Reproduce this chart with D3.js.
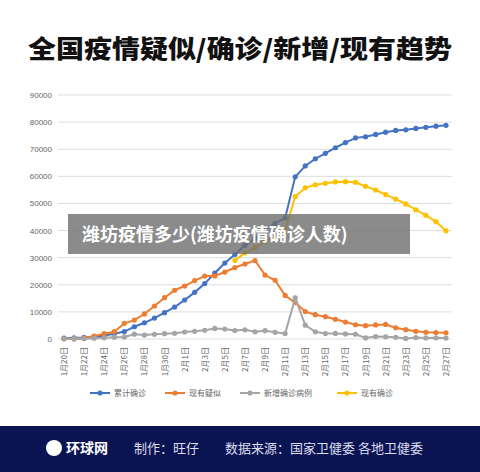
<!DOCTYPE html>
<html><head><meta charset="utf-8">
<script src="https://cdn.jsdelivr.net/npm/d3@7"></script>
<style>body{margin:0;background:#fff;font-family:"Noto Sans CJK SC",sans-serif}</style>
</head><body><svg></svg>
<script>
const width = 480, height = 472;

const dates = ["1月20日","1月21日","1月22日","1月23日","1月24日","1月25日","1月26日","1月27日","1月28日","1月29日","1月30日","1月31日","2月1日","2月2日","2月3日","2月4日","2月5日","2月6日","2月7日","2月8日","2月9日","2月10日","2月11日","2月12日","2月13日","2月14日","2月15日","2月16日","2月17日","2月18日","2月19日","2月20日","2月21日","2月22日","2月23日","2月24日","2月25日","2月26日","2月27日"];
const cumulative = [291,440,571,830,1287,1975,2744,4515,5974,7711,9692,11791,14380,17205,20438,24324,28018,31161,34546,37198,40171,42638,44653,59804,63851,66492,68500,70548,72436,74185,74576,75465,76288,76936,77150,77658,78064,78497,78824];
const suspected = [54,37,393,1072,1965,2684,5794,6973,9239,12167,15238,17988,19544,21558,23214,23260,24702,26359,27657,28942,23589,21675,16067,13435,10109,8969,8228,7264,6242,5248,4922,5206,5365,4148,3434,2824,2491,2358,2308];
const newCases = [77,149,131,259,444,688,769,1771,1459,1737,1982,2102,2590,2829,3235,3887,3694,3143,3385,2656,3062,2478,2015,15152,5090,2641,2009,2048,1886,1749,394,889,823,648,214,508,406,433,327];
const current = [null,null,null,null,null,null,null,null,null,null,null,null,null,null,null,null,null,29000,31774,33738,35982,37626,40000,52526,55748,56873,57416,57934,58016,57805,56303,54965,53284,51606,49824,47672,45604,43258,39919];
const yTicks = [0,10000,20000,30000,40000,50000,60000,70000,80000,90000];

const series = [
  {name:"累计确诊", values:cumulative, color:"#4472C4"},
  {name:"现有疑似", values:suspected, color:"#ED7D31"},
  {name:"新增确诊病例", values:newCases, color:"#A5A5A5"},
  {name:"现有确诊", values:current, color:"#FFC000"}
];

const svg = d3.select("svg").attr("width", width).attr("height", height);

svg.append("text").attr("x", 240).attr("y", 58).attr("text-anchor", "middle")
  .attr("font-size", 25).attr("font-weight", 900).attr("fill", "#111")
  .attr("textLength", 424).attr("lengthAdjust", "spacingAndGlyphs")
  .text("全国疫情疑似/确诊/新增/现有趋势");

const x = d3.scalePoint().domain(dates).range([64, 446]);
const y = d3.scaleLinear().domain([0, 90000]).range([339, 95]);

svg.append("g").selectAll("line").data(yTicks).enter().append("line")
  .attr("x1", 58).attr("x2", 452).attr("y1", d => y(d)).attr("y2", d => y(d))
  .attr("stroke", "#ddd").attr("stroke-width", 1);

svg.append("g").selectAll("text").data(yTicks).enter().append("text")
  .attr("x", 52).attr("y", d => y(d) + 3).attr("text-anchor", "end")
  .attr("font-size", 8).attr("fill", "#666").attr("font-family", "Liberation Sans")
  .text(d => d);

svg.append("g").selectAll("text").data(dates.filter((d, i) => i % 2 === 0)).enter().append("text")
  .attr("transform", d => `translate(${x(d) + 3},347) rotate(-90)`)
  .attr("text-anchor", "end").attr("font-size", 8).attr("fill", "#666")
  .text(d => d);

const line = d3.line().defined(d => d != null).x((d, i) => x(dates[i])).y(d => y(d));

series.forEach(s => {
  const g = svg.append("g");
  g.append("path").datum(s.values).attr("d", line)
    .attr("fill", "none").attr("stroke", s.color).attr("stroke-width", 2);
  g.selectAll("circle").data(s.values.map((v, i) => [dates[i], v]).filter(d => d[1] != null))
    .enter().append("circle")
    .attr("cx", d => x(d[0])).attr("cy", d => y(d[1])).attr("r", 2.6).attr("fill", s.color);
});

// legend
const legX = [90, 165, 240, 337];
series.forEach((s, i) => {
  const g = svg.append("g").attr("transform", `translate(${legX[i]},393)`);
  g.append("line").attr("x1", 0).attr("x2", 20).attr("stroke", s.color).attr("stroke-width", 2);
  g.append("circle").attr("cx", 10).attr("r", 2.6).attr("fill", s.color);
  g.append("text").attr("x", 24).attr("y", 3).attr("font-size", 8).attr("fill", "#666").text(s.name);
});

// footer
svg.append("rect").attr("x", 0).attr("y", 426).attr("width", width).attr("height", 46).attr("fill", "#0b1452");
svg.append("circle").attr("cx", 54).attr("cy", 448).attr("r", 8).attr("fill", "#fff");
svg.append("text").attr("x", 66).attr("y", 453).attr("font-size", 14).attr("font-weight", 700).attr("fill", "#fff").text("环球网");
svg.append("text").attr("x", 134).attr("y", 453).attr("font-size", 13).attr("fill", "#dde").text("制作：旺仔");
svg.append("text").attr("x", 225).attr("y", 453).attr("font-size", 13).attr("fill", "#dde").text("数据来源：国家卫健委 各地卫健委");

// overlay caption
svg.append("rect").attr("x", 68).attr("y", 214).attr("width", 342).attr("height", 40).attr("fill", "rgba(110,110,110,0.8)");
svg.append("text").attr("x", 82).attr("y", 241).attr("font-size", 18).attr("font-weight", 700).attr("fill", "#fff")
  .text("潍坊疫情多少(潍坊疫情确诊人数)");
</script></body></html>
